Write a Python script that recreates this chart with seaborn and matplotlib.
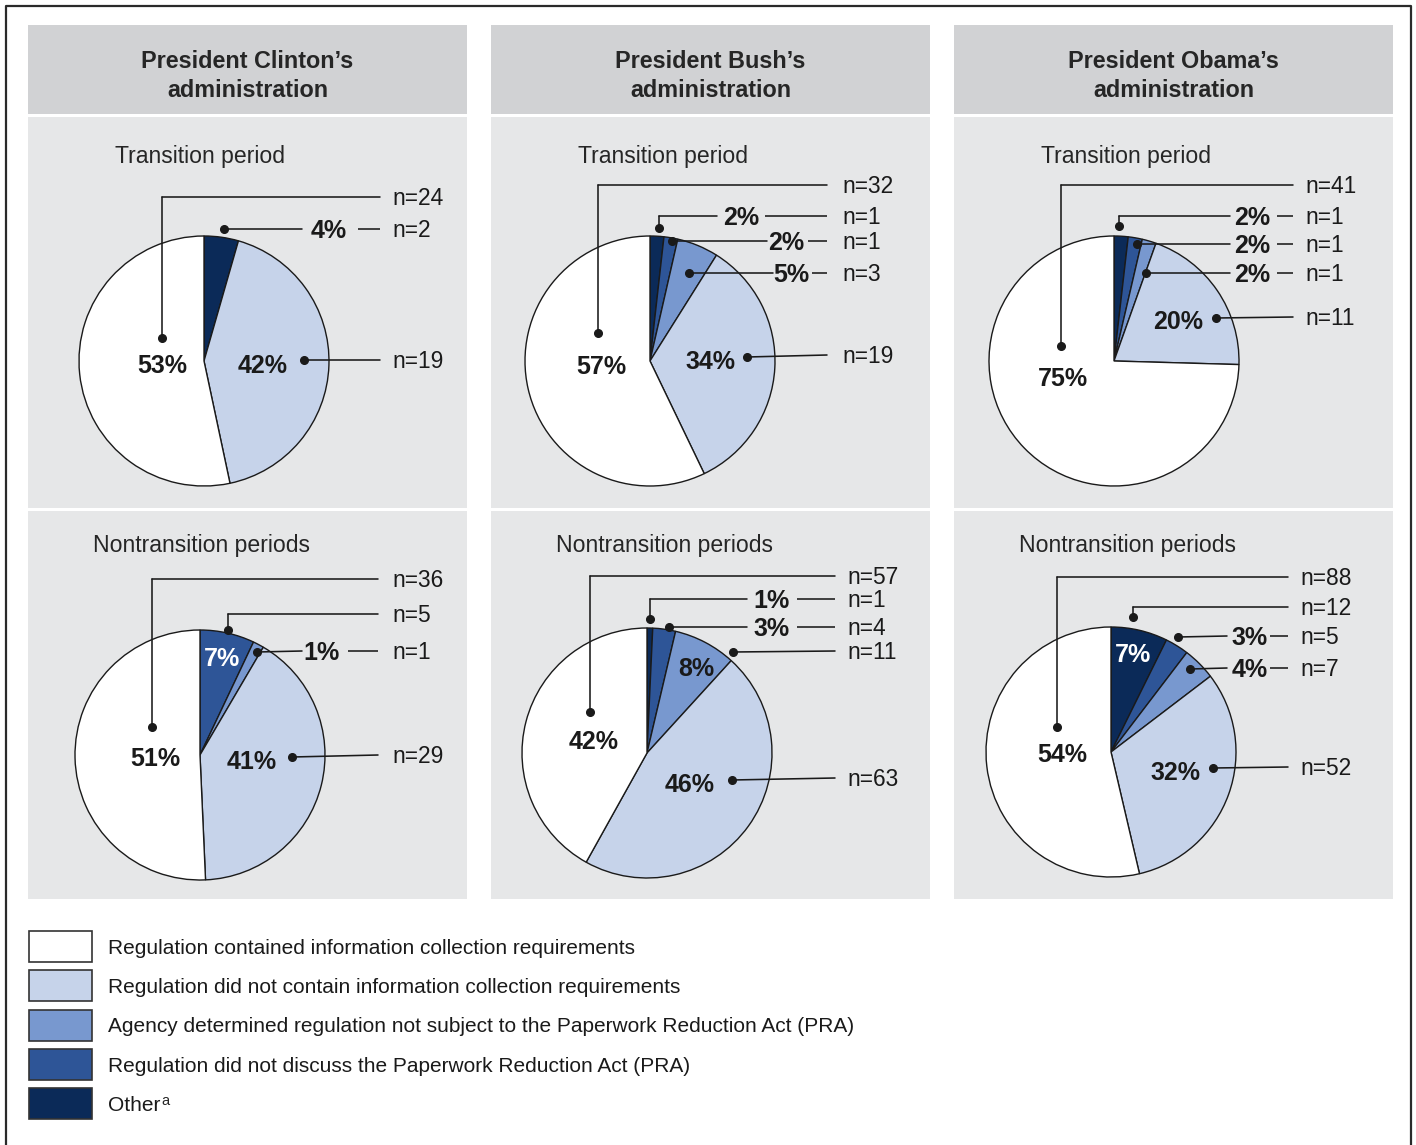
import matplotlib
matplotlib.use("Agg")
import matplotlib.pyplot as plt
from matplotlib.patches import Rectangle
import seaborn as sns

W, H, DPI = 1416, 1145, 100

# ---------------- data ----------------
categories = [
    "Regulation contained information collection requirements",
    "Regulation did not contain information collection requirements",
    "Agency determined regulation not subject to the Paperwork Reduction Act (PRA)",
    "Regulation did not discuss the Paperwork Reduction Act (PRA)",
    "Other",
]
footnote_mark = "a"
administrations = ["President Clinton\u2019s\nadministration",
                   "President Bush\u2019s\nadministration",
                   "President Obama\u2019s\nadministration"]
periods = ["Transition period", "Nontransition periods"]

# counts in legend order: contained, did not contain, not subject, did not discuss, other
clinton_transition = [24, 19, 0, 0, 2]
clinton_nontransition = [36, 29, 1, 5, 0]
bush_transition = [32, 19, 3, 1, 1]
bush_nontransition = [57, 63, 11, 4, 1]
obama_transition = [41, 11, 1, 1, 1]
obama_nontransition = [88, 52, 7, 5, 12]

counts = {
    (0, 0): clinton_transition, (0, 1): clinton_nontransition,
    (1, 0): bush_transition, (1, 1): bush_nontransition,
    (2, 0): obama_transition, (2, 1): obama_nontransition,
}

# ---------------- layout (pixel positions, y measured downward) ----------------
col_left = [28, 491, 954]
col_w = 439
header_y = (25, 114)
row_y = [(117, 508), (511, 899)]
title_dx = [87, 65]
title_base = [163, 552]
R = 125

pie_center = {
    (0, 0): (204, 361), (1, 0): (650, 361), (2, 0): (1114, 361),
    (0, 1): (200, 755), (1, 1): (647, 753), (2, 1): (1111, 752),
}
n_x = {(0, 0): 392, (1, 0): 842, (2, 0): 1305, (0, 1): 392, (1, 1): 847, (2, 1): 1300}
end_x = {(0, 0): 380, (1, 0): 827, (2, 0): 1293, (0, 1): 378, (1, 1): 835, (2, 1): 1288}

# cat, dot(x,y), row y, path, pct placement
ann = {
    (0, 0): [
        (0, (162, 338), 197, "elbow", ("in", 162, 364, "k")),
        (4, (224, 229), 229, "direct", ("line", 302, 311, 358)),
        (1, (304, 360), 360, "direct", ("in", 263, 364, "k")),
    ],
    (1, 0): [
        (0, (598, 333), 185, "elbow", ("in", 601, 365, "k")),
        (4, (659, 228), 216, "elbow", ("line", 717, 723, 765)),
        (3, (672, 241), 241, "direct", ("line", 767, 768, 808)),
        (2, (689, 273), 273, "direct", ("line", 773, 773, 812)),
        (1, (747, 357), 355, "direct", ("in", 710, 360, "k")),
    ],
    (2, 0): [
        (0, (1061, 346), 185, "elbow", ("in", 1063, 377, "k")),
        (4, (1119, 226), 216, "elbow", ("line", 1230, 1234, 1277)),
        (3, (1137, 244), 244, "direct", ("line", 1230, 1234, 1277)),
        (2, (1146, 273), 273, "direct", ("line", 1230, 1234, 1277)),
        (1, (1216, 318), 317, "direct", ("in", 1178, 320, "k")),
    ],
    (0, 1): [
        (0, (152, 727), 579, "elbow", ("in", 155, 757, "k")),
        (3, (228, 630), 614, "elbow", ("in", 222, 657, "white")),
        (2, (257, 652), 651, "direct", ("line", 302, 303, 348)),
        (1, (292, 757), 755, "direct", ("in", 252, 760, "k")),
    ],
    (1, 1): [
        (0, (590, 712), 576, "elbow", ("in", 594, 740, "k")),
        (4, (650, 619), 599, "elbow", ("line", 747, 753, 797)),
        (3, (669, 627), 627, "direct", ("line", 747, 753, 797)),
        (2, (733, 652), 651, "direct", ("in", 696, 667, "k")),
        (1, (732, 780), 778, "direct", ("in", 690, 783, "k")),
    ],
    (2, 1): [
        (0, (1057, 727), 577, "elbow", ("in", 1062, 753, "k")),
        (4, (1133, 617), 607, "elbow", ("in", 1133, 653, "white")),
        (3, (1178, 637), 636, "direct", ("line", 1227, 1231, 1270)),
        (2, (1190, 669), 668, "direct", ("line", 1227, 1232, 1270)),
        (1, (1213, 768), 767, "direct", ("in", 1175, 771, "k")),
    ],
}

# ---------------- style ----------------
sns.set_theme(style="white")
plt.rcParams["font.family"] = ["Liberation Sans", "DejaVu Sans"]
palette = sns.color_palette(["#ffffff", "#c6d3ea", "#7898cf", "#2e5597", "#0b2a58"])
HEADER_GRAY = "#d1d2d4"
PANEL_GRAY = "#e6e7e8"
LINE = "#1a1a1a"

FS_HEAD = 16.8
FS_TITLE = 16.6
FS_PCT = 18
FS_N = 16.4
FS_LEG = 15


def Y(y):
    return H - y


def px(pt):
    return pt * DPI / 72.0


fig = plt.figure(figsize=(W / DPI, H / DPI), dpi=DPI)
fig.patch.set_facecolor("white")
ax = fig.add_axes([0, 0, 1, 1])


def text_c(x, yc, s, size, weight="normal", color="k", ha="left"):
    """Place text so that the cap height is centred on yc."""
    return ax.text(x, Y(yc + 0.358 * px(size)), s, fontsize=size, fontweight=weight,
                   color=color, ha=ha, va="baseline", zorder=6)


def hline(x0, x1, y):
    ax.plot([x0, x1], [Y(y), Y(y)], color=LINE, lw=1.15, solid_capstyle="butt", zorder=5)


# outer frame
ax.plot([6, 6, 1411, 1411], [Y(H + 5), Y(6), Y(6), Y(H + 5)], color="#2a2a2a", lw=1.6, zorder=1)

for ci in range(3):
    x0 = col_left[ci]
    ax.add_patch(Rectangle((x0, Y(header_y[1])), col_w, header_y[1] - header_y[0],
                           facecolor=HEADER_GRAY, edgecolor="none", zorder=0))
    for li, line in enumerate(administrations[ci].split("\n")):
        ax.text(x0 + col_w / 2, Y(68 + 29 * li), line, fontsize=FS_HEAD, fontweight="bold",
                ha="center", va="baseline", zorder=6)
    for ri in range(2):
        y0, y1 = row_y[ri]
        ax.add_patch(Rectangle((x0, Y(y1)), col_w, y1 - y0,
                               facecolor=PANEL_GRAY, edgecolor="none", zorder=0))
        ax.text(x0 + title_dx[ri], Y(title_base[ri]), periods[ri], fontsize=FS_TITLE,
                ha="left", va="baseline", zorder=6)

        key = (ci, ri)
        vals = counts[key]
        total = sum(vals)
        # clockwise from 12 o'clock: other, not discuss, not subject, did not contain, contained
        order = [i for i in [4, 3, 2, 1, 0] if vals[i] > 0]
        cx, cy = pie_center[key]
        wedges, _ = ax.pie([vals[i] for i in order], colors=[palette[i] for i in order],
                           startangle=90, counterclock=False, radius=R, center=(cx, Y(cy)),
                           wedgeprops=dict(edgecolor=LINE, linewidth=1.0), frame=True)
        for w in wedges:
            w.set_zorder(2)

        for cat, (dx, dy), ry, path, pct in ann[key]:
            pct_txt = f"{round(100 * vals[cat] / total):d}%"
            ex = end_x[key]
            ax.plot([dx], [Y(dy)], "o", ms=5.5, color="k", zorder=7)
            if path == "elbow":
                ax.plot([dx, dx], [Y(dy), Y(ry)], color=LINE, lw=1.15, zorder=5)
                start = (dx, ry)
            else:
                start = (dx, dy)
            if pct[0] == "line":
                _, stop, tx, resume = pct
                ax.plot([start[0], stop], [Y(start[1]), Y(ry)], color=LINE, lw=1.15, zorder=5)
                text_c(tx, ry, pct_txt, FS_PCT, weight="bold")
                hline(resume, ex, ry)
            else:
                _, tx, ty, col = pct
                ax.plot([start[0], ex], [Y(start[1]), Y(ry)], color=LINE, lw=1.15, zorder=5)
                text_c(tx, ty, pct_txt, FS_PCT, weight="bold", color=col, ha="center")
            text_c(n_x[key], ry, f"n={vals[cat]}", FS_N)

ax.set_xlim(0, W)
ax.set_ylim(0, H)
ax.set_aspect("auto")
ax.set_axis_off()

# legend
fig.canvas.draw()
renderer = fig.canvas.get_renderer()
for i, lab in enumerate(categories):
    yc = 946.5 + 39.25 * i
    ax.add_patch(Rectangle((29, Y(yc + 15.5)), 63, 31, facecolor=palette[i],
                           edgecolor="#333333", linewidth=1.2, zorder=3))
    t = text_c(108, yc, lab, FS_LEG)
    if i == len(categories) - 1:
        bb = t.get_window_extent(renderer=renderer)
        inv = ax.transData.inverted()
        xr, _ = inv.transform((bb.x1, bb.y1))
        ax.text(xr + 1, Y(yc + 0.358 * px(FS_LEG)) + 6, footnote_mark, fontsize=10.5,
                ha="left", va="baseline", zorder=6)

fig.savefig("out.png", dpi=DPI, facecolor="white")
